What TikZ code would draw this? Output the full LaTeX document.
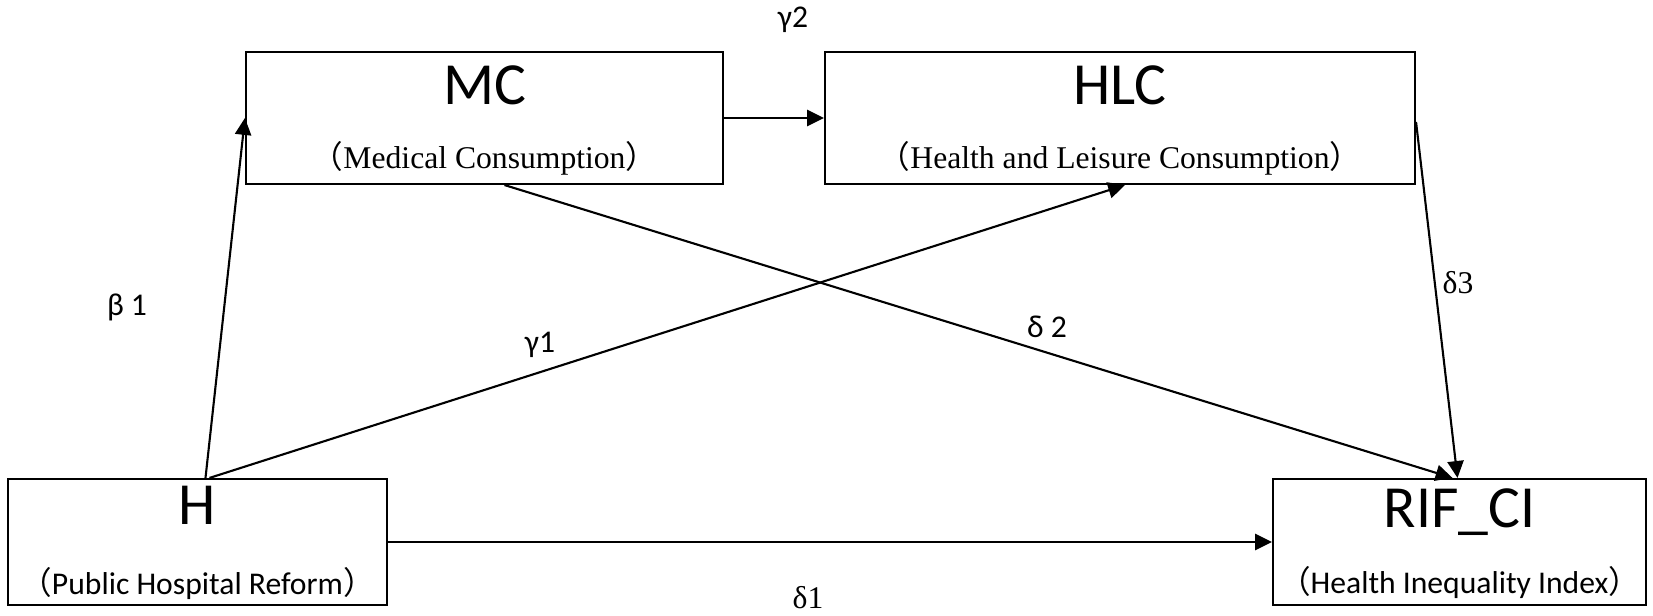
\documentclass[tikz,border=0pt]{standalone}
\usepackage{fontspec}
\setmainfont{Carlito}
\newfontfamily\serifface{Liberation Serif}
\newfontfamily\cjk{Noto Sans CJK SC}
\usetikzlibrary{arrows.meta, positioning}

\begin{document}
\begin{tikzpicture}[
  box/.style={draw, line width=0.6pt, rectangle, inner sep=0pt},
  title/.style={font=\fontsize{17}{17}\selectfont, inner sep=0pt},
  sub/.style={font=\fontsize{9}{9}\selectfont, inner sep=0pt, anchor=base},
  subserif/.style={sub, font=\serifface\fontsize{9}{9}\selectfont},
  coef/.style={font=\fontsize{9}{9}\selectfont, inner sep=0pt},
  coefserif/.style={coef, font=\serifface\fontsize{9}{9}\selectfont},
  link/.style={line width=0.6pt, -{Triangle[length=4.8pt,width=4.6pt]}}
]
\useasboundingbox (0,0) rectangle (16.53,6.16);
% Draw boxes
\node[box, minimum width=4.77cm, minimum height=1.32cm] (mc) at (4.845,4.98) {};
\node[box, minimum width=5.90cm, minimum height=1.32cm] (hlc) at (11.20,4.98) {};
\node[box, minimum width=3.79cm, minimum height=1.26cm] (h) at (1.975,0.74) {};
\node[box, minimum width=3.73cm, minimum height=1.26cm] (rif) at (14.595,0.74) {};
% Titles
\node[title, below=0.14cm of mc.north] (mctitle) {MC};
\node[title, below=0.14cm of hlc.north] (hlctitle) {HLC};
\node[title, below=0.08cm of h.north] (htitle) {H};
\node[title, below=0.10cm of rif.north] (riftitle) {RIF\_CI};
% Subtitles
\node[subserif] (mcsub) at ([yshift=0.17cm]mc.south) {{\cjk （}Medical Consumption{\cjk ）}};
\node[subserif] (hlcsub) at ([yshift=0.17cm]hlc.south) {{\cjk （}Health and Leisure Consumption{\cjk ）}};
\node[sub] (hsub) at ([yshift=0.12cm]h.south) {{\cjk （}Public Hospital Reform{\cjk ）}};
\node[sub] (rifsub) at ([yshift=0.13cm]rif.south) {{\cjk （}Health Inequality Index{\cjk ）}};
% Draw paths
\draw[link] ([xshift=0.08cm]h.north) -- (mc.west);
\draw[link] (mc.east) -- (hlc.west);
\draw[link] ([xshift=0.12cm]h.north) -- ([xshift=0.05cm]hlc.south);
\draw[link] ([xshift=0.2cm]mc.south) -- ([xshift=-0.07cm]rif.north);
\draw[link] ([yshift=-0.04cm]hlc.east) -- ([xshift=-0.02cm]rif.north);
\draw[link] (h.east) -- (rif.west);
% Coefficients
\node[coef] (g2) at (7.93,5.96) {γ2};
\node[coef] (b1) at (1.27,3.09) {β 1};
\node[coef] (g1) at (5.40,2.71) {γ1};
\node[coef] (d2) at (10.47,2.89) {δ 2};
\node[coefserif] (d3) at (14.58,3.33) {δ3};
\node[coefserif] (d1) at (8.08,0.18) {δ1};
\end{tikzpicture}
\end{document}
